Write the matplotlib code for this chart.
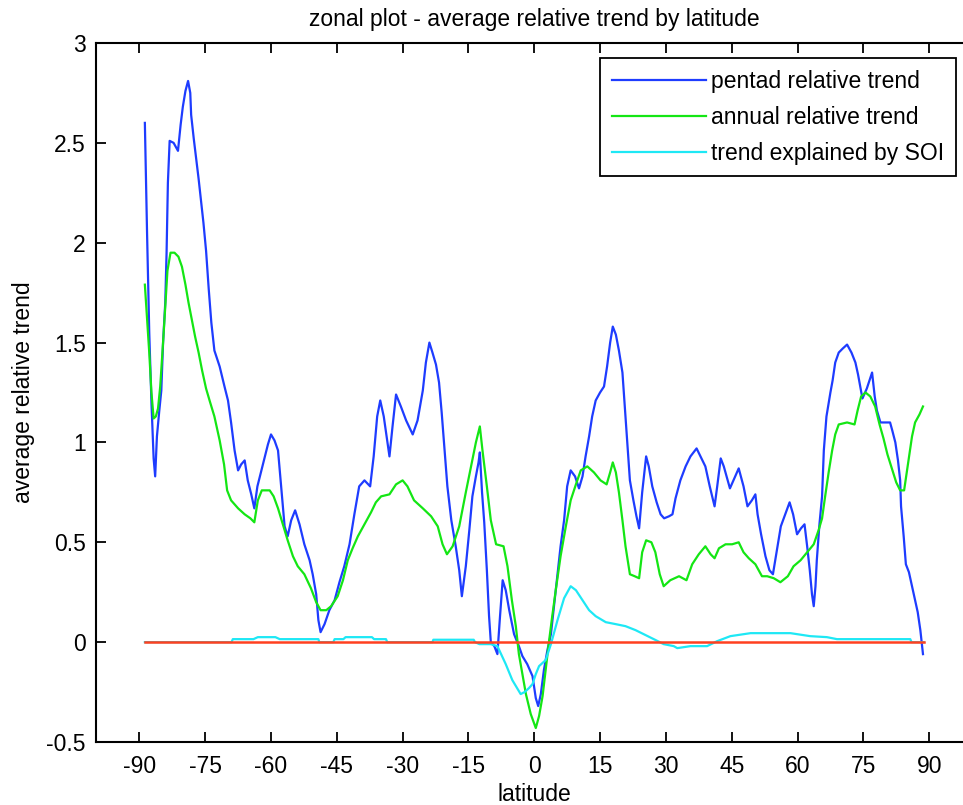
import matplotlib
matplotlib.use("Agg")
import matplotlib.pyplot as plt

plt.rcParams["font.family"] = ["Liberation Sans", "DejaVu Sans"]
plt.rcParams["axes.unicode_minus"] = False

# latitude / value pairs
pentad_lat = [-88.75, -88.25, -87.75, -87.25, -86.75, -86.4, -86.0, -85.5, -85.0, -84.6,
              -84.1, -83.8, -83.5, -83.1, -82.2, -81.2, -80.6, -80.1, -79.5, -78.9,
              -78.4, -78.2, -77.6, -77.0, -76.5, -75.9, -75.4, -74.8, -74.2, -73.6,
              -72.9, -71.7, -70.6, -69.8, -69.1, -68.3, -67.5, -66.8, -66.0, -65.3,
              -64.5, -63.8, -63.1, -62.2, -61.5, -60.7, -60.0, -59.2, -58.4, -57.7,
              -56.9, -56.2, -55.4, -54.5, -53.5, -52.4, -51.2, -50.5, -49.7, -49.2,
              -48.7, -47.8, -46.7, -45.5, -44.4, -43.3, -42.1, -41.0, -39.9, -38.7,
              -37.4, -36.6, -35.8, -35.1, -34.3, -33.0, -32.3, -31.5, -30.4, -29.2,
              -27.7, -26.6, -25.4, -24.7, -23.9, -23.2, -22.4, -21.7, -21.1, -20.5,
              -19.8, -18.9, -17.9, -17.1, -16.5, -15.6, -14.8, -14.1, -13.3, -12.7,
              -12.4, -11.9, -11.4, -10.8, -10.3, -9.9, -9.1, -8.4, -7.8, -7.2,
              -6.5, -5.7, -4.6, -3.5, -2.7, -1.6, -0.4, 0.35, 0.9, 1.5,
              2.2, 3.0, 3.8, 4.5, 5.3, 6.0, 6.8, 7.5, 8.3, 9.3,
              10.2, 11.0, 11.7, 12.5, 13.2, 14.0, 15.0, 15.9, 16.6, 17.3,
              17.9, 18.6, 19.3, 20.1, 20.7, 21.2, 21.8, 22.6, 23.3, 23.9,
              24.6, 25.5, 26.1, 26.9, 27.9, 28.8, 29.6, 30.7, 31.5, 32.2,
              33.3, 34.5, 35.6, 37.0, 37.9, 39.0, 40.0, 41.1, 41.7, 42.5,
              43.2, 44.6, 45.6, 46.6, 47.7, 48.6, 49.6, 50.4, 50.9, 51.7,
              52.7, 53.6, 54.4, 55.3, 56.2, 57.2, 58.2, 59.0, 59.9, 60.8,
              61.6, 62.2, 62.8, 63.3, 63.7, 64.1, 64.4, 65.0, 65.6, 66.0,
              66.6, 67.5, 68.0, 68.6, 69.4, 70.3, 71.3, 72.3, 73.2, 73.8,
              74.3, 74.8, 75.8, 76.4, 77.0, 77.6, 78.1, 78.9, 80.0, 81.1,
              81.6, 82.3, 82.9, 83.4, 83.6, 84.2, 84.7, 85.4, 86.1, 86.8,
              87.4, 88.0, 88.6]
pentad_val = [2.60, 2.05, 1.55, 1.20, 0.92, 0.83, 1.03, 1.15, 1.26, 1.50,
              1.70, 1.95, 2.30, 2.51, 2.50, 2.46, 2.59, 2.68, 2.76, 2.81,
              2.75, 2.64, 2.52, 2.41, 2.32, 2.20, 2.10, 1.96, 1.77, 1.60,
              1.46, 1.38, 1.28, 1.21, 1.10, 0.96, 0.86, 0.89, 0.91, 0.81,
              0.74, 0.67, 0.78, 0.86, 0.92, 0.99, 1.04, 1.01, 0.96, 0.78,
              0.58, 0.53, 0.61, 0.66, 0.59, 0.49, 0.41, 0.34, 0.24, 0.11,
              0.05, 0.09, 0.16, 0.21, 0.30, 0.38, 0.49, 0.64, 0.78, 0.81,
              0.78, 0.93, 1.13, 1.21, 1.13, 0.93, 1.08, 1.24, 1.18, 1.11,
              1.04, 1.11, 1.26, 1.40, 1.50, 1.45, 1.39, 1.30, 1.15, 0.98,
              0.78, 0.61, 0.48, 0.36, 0.23, 0.38, 0.56, 0.73, 0.83, 0.90,
              0.95, 0.75, 0.60, 0.36, 0.13, 0.00, -0.02, -0.06, 0.13, 0.31,
              0.26, 0.16, 0.04, -0.02, -0.07, -0.11, -0.17, -0.28, -0.32, -0.26,
              -0.14, -0.04, 0.04, 0.18, 0.34, 0.48, 0.61, 0.78, 0.86, 0.83,
              0.77, 0.83, 0.93, 1.03, 1.13, 1.21, 1.25, 1.28, 1.38, 1.50,
              1.58, 1.54, 1.46, 1.35, 1.16, 1.00, 0.81, 0.71, 0.63, 0.57,
              0.75, 0.93, 0.88, 0.78, 0.70, 0.64, 0.62, 0.63, 0.64, 0.72,
              0.81, 0.88, 0.93, 0.97, 0.93, 0.88, 0.78, 0.68, 0.78, 0.92,
              0.88, 0.77, 0.82, 0.87, 0.78, 0.68, 0.71, 0.74, 0.64, 0.54,
              0.43, 0.36, 0.34, 0.46, 0.58, 0.64, 0.70, 0.64, 0.54, 0.57,
              0.59, 0.48, 0.36, 0.24, 0.18, 0.28, 0.41, 0.59, 0.73, 0.96,
              1.13, 1.25, 1.31, 1.40, 1.45, 1.47, 1.49, 1.45, 1.40, 1.34,
              1.28, 1.22, 1.27, 1.31, 1.35, 1.23, 1.16, 1.10, 1.10, 1.10,
              1.06, 1.00, 0.91, 0.81, 0.68, 0.53, 0.39, 0.35, 0.28, 0.21,
              0.15, 0.06, -0.06]

annual_lat = [-88.75, -88.25, -87.75, -87.25, -86.75, -86.25, -85.75, -85.25, -84.6, -84.1,
              -83.6, -82.9, -82.0, -81.1, -80.3, -79.5, -78.8, -78.0, -77.3, -76.5,
              -75.7, -74.8, -74.0, -72.9, -71.7, -70.7, -70.0, -69.1, -67.5, -66.0,
              -64.7, -63.8, -63.0, -62.1, -60.3, -59.4, -58.4, -57.3, -56.2, -55.0,
              -53.9, -52.4, -50.9, -49.7, -48.7, -47.4, -46.3, -44.8, -43.6, -42.5,
              -41.4, -40.2, -38.7, -37.2, -36.1, -34.9, -33.0, -31.5, -30.0, -28.9,
              -27.4, -25.4, -23.5, -22.0, -20.9, -19.9, -18.6, -17.1, -15.6, -14.4,
              -13.3, -12.4, -11.8, -10.8, -9.9, -8.7, -7.0, -6.1, -5.1, -4.2,
              -3.5, -2.7, -1.9, -0.8, 0.35, 1.1, 1.9, 2.6, 3.4, 4.1,
              4.9, 6.0, 7.2, 8.3, 9.5, 10.6, 12.1, 13.6, 15.1, 16.5,
              17.3, 17.9, 18.6, 19.3, 20.1, 20.8, 21.8, 22.9, 23.9, 24.6,
              25.5, 26.7, 27.6, 28.6, 29.5, 31.0, 33.0, 34.7, 36.0, 37.5,
              39.0, 40.2, 41.1, 42.1, 43.6, 45.1, 46.6, 47.7, 48.9, 50.4,
              51.9, 53.1, 54.6, 56.1, 57.8, 59.1, 60.7, 62.2, 63.7, 64.8,
              65.6, 66.3, 67.1, 67.9, 68.6, 69.4, 71.3, 73.0, 73.7, 74.5,
              75.5, 76.6, 77.7, 78.7, 79.6, 80.5, 81.5, 82.5, 83.4, 84.3,
              84.9, 85.5, 86.1, 86.8, 87.8, 88.6]
annual_val = [1.79, 1.62, 1.45, 1.25, 1.12, 1.13, 1.17, 1.28, 1.50, 1.68,
              1.86, 1.95, 1.95, 1.93, 1.88, 1.79, 1.70, 1.61, 1.53, 1.45,
              1.36, 1.27, 1.21, 1.13, 1.01, 0.89, 0.76, 0.71, 0.67, 0.64,
              0.62, 0.60, 0.71, 0.76, 0.76, 0.73, 0.67, 0.59, 0.51, 0.43,
              0.38, 0.34, 0.27, 0.20, 0.16, 0.16, 0.18, 0.23, 0.31, 0.41,
              0.47, 0.53, 0.59, 0.65, 0.70, 0.73, 0.74, 0.79, 0.81, 0.78,
              0.71, 0.67, 0.63, 0.58, 0.49, 0.44, 0.48, 0.58, 0.75, 0.88,
              1.00, 1.08, 0.96, 0.78, 0.61, 0.49, 0.48, 0.38, 0.21, 0.08,
              -0.06, -0.16, -0.26, -0.36, -0.43, -0.37, -0.27, -0.14, 0.01, 0.13,
              0.26, 0.43, 0.58, 0.71, 0.79, 0.86, 0.88, 0.85, 0.81, 0.79,
              0.85, 0.90, 0.85, 0.75, 0.61, 0.48, 0.34, 0.33, 0.32, 0.45,
              0.51, 0.50, 0.45, 0.34, 0.28, 0.31, 0.33, 0.31, 0.39, 0.44,
              0.48, 0.44, 0.42, 0.47, 0.49, 0.49, 0.50, 0.45, 0.42, 0.39,
              0.33, 0.33, 0.32, 0.30, 0.33, 0.38, 0.41, 0.45, 0.49, 0.56,
              0.62, 0.73, 0.85, 0.96, 1.04, 1.09, 1.10, 1.09, 1.16, 1.23,
              1.25, 1.23, 1.18, 1.09, 1.02, 0.94, 0.87, 0.80, 0.76, 0.76,
              0.85, 0.94, 1.03, 1.10, 1.14, 1.18]

soi_lat = [-88.75, -69.0, -68.7, -64.0, -63.0, -59.0, -58.0, -49.2, -49.0, -45.8,
           -45.5, -43.5, -43.0, -37.0, -36.5, -33.8, -33.5, -23.2, -23.0, -13.8,
           -13.5, -12.5, -9.9, -8.4, -6.5, -5.0, -3.1, -2.2, -1.2, -0.4,
           0.35, 1.1, 2.6, 3.8, 5.3, 6.8, 8.3, 9.5, 11.0, 12.5,
           14.0, 16.3, 18.6, 20.8, 23.1, 25.4, 27.7, 29.5, 31.8, 32.6,
           35.6, 39.4, 41.7, 44.7, 49.3, 53.1, 58.4, 62.9, 66.7, 69.0,
           85.7, 86.0, 88.75]
soi_val = [0.0, 0.0, 0.015, 0.015, 0.025, 0.025, 0.015, 0.015, 0.0, 0.0,
           0.015, 0.015, 0.025, 0.025, 0.015, 0.015, 0.0, 0.0, 0.012, 0.012,
           0.0, -0.01, -0.01, -0.02, -0.11, -0.19, -0.26, -0.25, -0.23, -0.21,
           -0.16, -0.12, -0.09, -0.01, 0.11, 0.22, 0.28, 0.26, 0.21, 0.16,
           0.13, 0.10, 0.09, 0.08, 0.06, 0.035, 0.01, -0.01, -0.02, -0.03,
           -0.02, -0.02, 0.005, 0.03, 0.045, 0.045, 0.045, 0.03, 0.025, 0.015,
           0.015, 0.0, 0.0]

zero_lat = [-88.75, 88.75]
zero_val = [0, 0]

x_ticks = list(range(-90, 91, 15))
y_ticks = [-0.5, 0, 0.5, 1, 1.5, 2, 2.5, 3]
y_tick_labels = ["-0.5", "0", "0.5", "1", "1.5", "2", "2.5", "3"]

fs = 16.5
W, H = 963, 805
fig = plt.figure(figsize=(W / 100, H / 100), dpi=100)
ax = fig.add_axes([95.5 / W, 1 - 742 / H, (973 - 95.5) / W, (742 - 43) / H])

ax.plot(pentad_lat, pentad_val, color="#1e3cff", lw=1.6, label="pentad relative trend")
ax.plot(annual_lat, annual_val, color="#14e614", lw=1.6, label="annual relative trend")
ax.plot(soi_lat, soi_val, color="#1ee8f5", lw=1.6, label="trend explained by SOI")
ax.plot(zero_lat, zero_val, color="#ff4020", lw=1.8)

ax.set_xlim(-100, 100)
ax.set_ylim(-0.5, 3)
ax.set_xticks(x_ticks)
ax.set_yticks(y_ticks)
ax.set_yticklabels(y_tick_labels)
ax.tick_params(direction="in", length=7.5, width=1.3, top=True, right=True,
               labelsize=fs, pad=7, colors="black")
ax.tick_params(axis="x", pad=9)
for s in ax.spines.values():
    s.set_linewidth(1.5)

ax.set_title("zonal plot - average relative trend by latitude", fontsize=fs, pad=12)
ax.set_xlabel("latitude", fontsize=fs, labelpad=4)
ax.set_ylabel("average relative trend", fontsize=fs, labelpad=8)

leg = ax.legend(loc="upper right", bbox_to_anchor=(956 / W, 1 - 58 / H),
                bbox_transform=fig.transFigure, fontsize=fs, fancybox=False,
                framealpha=1, edgecolor="black", handlelength=4.1,
                handletextpad=0.22, labelspacing=0.56, borderpad=0.52,
                borderaxespad=0)
leg.get_frame().set_linewidth(1.3)

fig.savefig("out.png", dpi=100)
